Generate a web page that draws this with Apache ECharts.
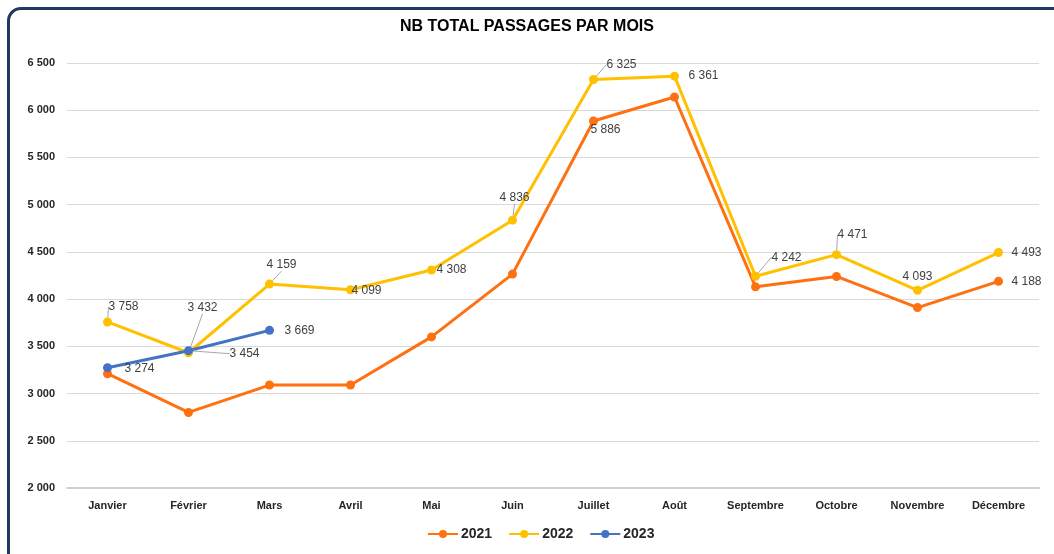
<!DOCTYPE html>
<html>
<head>
<meta charset="utf-8">
<script src="https://cdn.jsdelivr.net/npm/echarts@6/dist/echarts.min.js"></script>
<style>
  html, body { margin: 0; padding: 0; background: #fff; overflow: hidden; }
  #frame { position: absolute; left: 7px; top: 7px; width: 1100px; height: 600px;
           border: 3px solid #1f3864; border-radius: 14px; }
  #main { position: absolute; left: 0; top: 0; width: 1054px; height: 554px; }
</style>
</head>
<body>
<div id="frame"></div>
<div id="main"></div>
<script>
var mois = ['Janvier', 'Février', 'Mars', 'Avril', 'Mai', 'Juin', 'Juillet', 'Août',
            'Septembre', 'Octobre', 'Novembre', 'Décembre'];
var v2021 = [3210, 2800, 3090, 3090, 3600, 4265, 5886, 6140, 4130, 4240, 3910, 4188];
var v2022 = [3758, 3432, 4159, 4099, 4308, 4836, 6325, 6361, 4242, 4471, 4093, 4493];
var v2023 = [3274, 3454, 3669];
var yTicks = { min: 2000, max: 6500, step: 500 };

// which points carry a label, and where (dx, dy from the point, line or not)
var lab2021 = { 6: [12, 9, 0], 11: [28, 0, 0] };
var lab2022 = { 0: [16, -15, 1], 1: [14, -45, 1], 2: [12, -19, 1], 3: [16, 1, 0], 4: [20, 0, 0],
                5: [2, -22, 1], 6: [28, -15, 1], 7: [29, 0, 0], 8: [31, -19, 1], 9: [16, -20, 1],
                10: [0, -14, 0], 11: [28, 0, 0] };
var lab2023 = { 0: [32, 1, 0], 1: [56, 3, 1], 2: [30, 0, 0] };

function fmt(v) {
  return String(v).replace(/\B(?=(\d{3})+(?!\d))/g, ' ');
}

function build(name, values, color, labs) {
  return {
    name: name,
    type: 'line',
    data: values.map(function (v, i) {
      return {
        value: v,
        label: { show: labs[i] !== undefined },
        labelLine: { show: !!(labs[i] && labs[i][2]) }
      };
    }),
    symbol: 'circle',
    symbolSize: 9,
    lineStyle: { width: 3, color: color },
    itemStyle: { color: color },
    label: {
      position: 'inside',
      formatter: function (p) { return fmt(p.value); },
      color: '#404040',
      fontSize: 12,
      fontFamily: 'Liberation Sans'
    },
    labelLine: { lineStyle: { color: '#a6a6a6', width: 1 } },
    labelLayout: function (p) {
      var o = labs[p.dataIndex];
      return o ? { dx: o[0], dy: o[1] } : {};
    },
    emphasis: { disabled: true },
    z: name === '2023' ? 5 : 3
  };
}

var chart = echarts.init(document.getElementById('main'));
chart.setOption({
  animation: false,
  title: {
    text: 'NB TOTAL PASSAGES PAR MOIS',
    left: 'center',
    top: 14,
    textStyle: { fontSize: 16, fontWeight: 'bold', color: '#000', fontFamily: 'Liberation Sans' }
  },
  legend: {
    bottom: 8,
    left: 422,
    itemWidth: 30,
    itemHeight: 10,
    itemGap: 16,
    textStyle: { fontSize: 14, fontWeight: 'bold', color: '#262626', fontFamily: 'Liberation Sans', padding: [0, 0, 0, -2] },
    data: ['2021', '2022', '2023']
  },
  grid: { left: 67, right: 15, top: 63, bottom: 66 },
  xAxis: {
    type: 'category',
    data: mois,
    boundaryGap: true,
    axisLine: { lineStyle: { color: '#d0d0d0', width: 2 } },
    axisTick: { show: false },
    axisLabel: { fontSize: 11, fontWeight: 'bold', color: '#262626', margin: 12, fontFamily: 'Liberation Sans' }
  },
  yAxis: {
    type: 'value',
    min: yTicks.min,
    max: yTicks.max,
    interval: yTicks.step,
    axisLine: { show: false },
    axisTick: { show: false },
    axisLabel: {
      fontSize: 11, fontWeight: 'bold', color: '#262626', margin: 12, fontFamily: 'Liberation Sans',
      formatter: function (v) { return fmt(v); }
    },
    splitLine: { lineStyle: { color: '#d9d9d9', width: 1 } }
  },
  series: [
    build('2021', v2021, '#ff7010', lab2021),
    build('2022', v2022, '#ffc000', lab2022),
    build('2023', v2023, '#4472c4', lab2023)
  ]
});
</script>
</body>
</html>
